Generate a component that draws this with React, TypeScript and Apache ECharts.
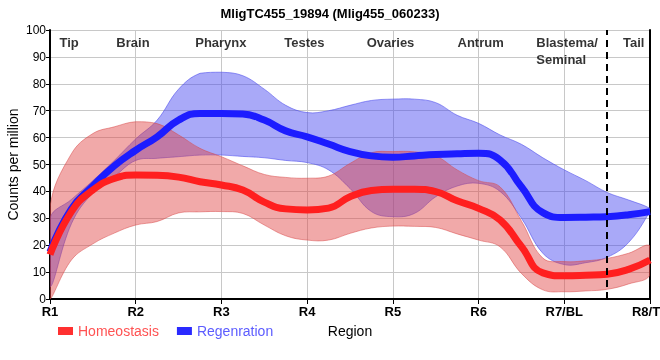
import React, { useEffect, useRef } from "react";
import * as echarts from "echarts";

const chartTitle = "MligTC455_19894 (Mlig455_060233)";
const xLabels = ["R1", "R2", "R3", "R4", "R5", "R6", "R7/BL", "R8/TL"];

// sample positions along the body axis (R1..R8)
const samplePos = [1, 1.25, 1.5, 1.75, 2, 2.25, 2.5, 2.75, 3, 3.25, 3.5, 3.75, 4, 4.25, 4.5, 4.75, 5, 5.25, 5.5, 5.75, 6, 6.25, 6.5, 6.75, 7, 7.25, 7.5, 7.75, 8];

const homeoMean = [16.5, 32.5, 40.5, 44.8, 46.1, 46.0, 45.3, 43.6, 42.4, 40.5, 36.0, 33.5, 33.1, 33.8, 38.0, 40.3, 40.8, 40.8, 39.9, 36.5, 33.7, 29.4, 19.5, 9.7, 8.6, 8.8, 9.2, 11.0, 14.5];
const homeoUpper = [34.3, 54.0, 61.5, 64.0, 65.9, 65.2, 61.0, 56.0, 52.9, 49.5, 46.3, 45.2, 44.9, 45.7, 50.4, 54.4, 54.8, 54.7, 53.2, 48.0, 44.0, 41.7, 29.0, 15.2, 13.9, 14.2, 15.1, 17.0, 19.7];
const homeoLower = [0, 14.5, 20.5, 24.5, 27.5, 28.8, 32.0, 32.4, 32.5, 31.8, 27.5, 23.5, 21.9, 21.9, 24.4, 26.4, 27.1, 27.0, 26.6, 24.2, 21.9, 19.4, 9.5, 3.4, 2.7, 3.0, 3.6, 5.6, 8.9];

const regenMean = [17.5, 33.5, 42.0, 49.5, 55.3, 60.3, 66.5, 69.0, 69.0, 68.8, 66.5, 62.5, 60.3, 57.6, 54.8, 53.2, 52.7, 53.2, 53.7, 54.0, 54.2, 51.7, 41.7, 32.1, 30.3, 30.4, 30.6, 31.3, 32.5];
const regenUpper = [30.0, 37.0, 44.0, 51.5, 59.5, 66.5, 78.0, 83.9, 84.3, 83.0, 78.0, 72.0, 69.3, 70.0, 72.0, 73.8, 74.3, 74.3, 73.0, 68.3, 65.3, 61.0, 57.5, 52.5, 48.0, 44.0, 39.6, 36.8, 33.7];
const regenLower = [4.5, 28.0, 39.5, 45.5, 51.5, 52.3, 52.9, 53.5, 53.5, 53.0, 52.5, 51.5, 50.7, 48.0, 41.1, 32.5, 30.6, 31.8, 38.0, 42.0, 43.0, 40.0, 30.0, 17.0, 12.8, 13.5, 15.5, 21.0, 32.5];

const regionNames = ["Tip", "Brain", "Pharynx", "Testes", "Ovaries", "Antrum", "Blastema/\nSeminal", "Tail"];
const regionPos = [1.117, 1.78, 2.7, 3.74, 4.7, 5.76, 6.68, 7.69];
const tailDivider = 7.5;

export default function App() {
  const ref = useRef<HTMLDivElement>(null);
  useEffect(() => {
    const chart = echarts.init(ref.current!, null, { renderer: "svg" });
    const pairs = (ys: number[]) => samplePos.map((x, i) => [x, ys[i]]);
    const band = (lo: number[], up: number[], fill: string, edge: string) => ({
      type: "custom",
      coordinateSystem: "cartesian2d",
      silent: true,
      clip: true,
      data: [[samplePos[0], lo[0]]],
      renderItem: (_params: any, api: any) => {
        const top = samplePos.map((x, i) => api.coord([x, up[i]]));
        const bot = samplePos.map((x, i) => api.coord([x, lo[i]])).reverse();
        const pts = top.concat(bot);
        let minX = Infinity, minY = Infinity, maxX = -Infinity, maxY = -Infinity;
        pts.forEach((p: number[]) => {
          minX = Math.min(minX, p[0]); maxX = Math.max(maxX, p[0]);
          minY = Math.min(minY, p[1]); maxY = Math.max(maxY, p[1]);
        });
        return {
          type: "polygon",
          shape: { points: pts, smooth: 0.4, smoothConstraint: [[minX, minY], [maxX, maxY]] },
          style: { fill, stroke: edge, lineWidth: 1 },
        };
      },
    });
    const font = "'Liberation Sans', Arial, sans-serif";
    chart.setOption({
      animation: false,
      textStyle: { fontFamily: font },
      title: {
        text: chartTitle, left: "center", top: 2,
        textStyle: { fontSize: 13, fontWeight: "bold", color: "#000", fontFamily: font },
      },
      grid: { left: 50, right: 10, top: 30, bottom: 61, containLabel: false, outerBoundsMode: "none" },
      legend: {
        left: 53, top: 319, itemWidth: 15, itemHeight: 8, itemGap: 18, icon: "rect",
        textStyle: { fontSize: 14, fontFamily: font },
        data: [
          { name: "Homeostasis", textStyle: { color: "#ff5252" } },
          { name: "Regenration", textStyle: { color: "#5c5cff" } },
        ],
      },
      xAxis: {
        type: "value", min: 1, max: 8, interval: 1,
        name: "Region", nameLocation: "middle", nameGap: 25, nameMoveOverlap: false,
        nameTextStyle: { fontSize: 14, color: "#000", fontFamily: font },
        axisLine: { show: true, onZero: false, lineStyle: { color: "#000", width: 2 } },
        axisTick: { show: true, length: 5, lineStyle: { color: "#000", width: 1 } },
        axisLabel: {
          formatter: (v: number) => xLabels[Math.round(v) - 1] ?? "",
          fontSize: 13, fontWeight: "bold", color: "#000", margin: 6, fontFamily: font,
          hideOverlap: false,
        },
        splitLine: { show: true, lineStyle: { color: "#c8c8c8", width: 1 } },
      },
      yAxis: [
        {
          type: "value", min: 0, max: 100, interval: 10,
          name: "Counts per million", nameLocation: "middle", nameGap: 30, nameMoveOverlap: false,
          nameTextStyle: { fontSize: 14, color: "#000", fontFamily: font },
          axisLine: { show: true, lineStyle: { color: "#000", width: 2 } },
          axisTick: { show: true, length: 4, lineStyle: { color: "#000" } },
          axisLabel: { fontSize: 12, color: "#000", margin: 4, fontFamily: font },
          splitLine: { show: true, lineStyle: { color: "#c8c8c8", width: 1 } },
        },
        {
          type: "value", min: 0, max: 100, interval: 10, position: "right",
          axisLine: { show: true, lineStyle: { color: "#000", width: 2 } },
          axisTick: { show: false }, axisLabel: { show: false }, splitLine: { show: false },
        },
      ],
      series: [
        band(regenLower, regenUpper, "rgba(64,64,240,0.45)", "rgba(70,70,235,0.55)"),
        {
          type: "line", name: "Regenration", data: pairs(regenMean), smooth: true, symbol: "none",
          lineStyle: { width: 7, color: "#1c1cff" }, itemStyle: { color: "#2a2aff" }, emphasis: { disabled: true },
        },
        band(homeoLower, homeoUpper, "rgba(224,64,64,0.45)", "rgba(215,70,70,0.5)"),
        {
          type: "line", name: "Homeostasis", data: pairs(homeoMean), smooth: true, symbol: "none",
          lineStyle: { width: 7, color: "#ff1f1f" }, itemStyle: { color: "#ff3030" }, emphasis: { disabled: true },
        },
        {
          type: "scatter", name: "regions", silent: true, symbolSize: 1,
          itemStyle: { color: "rgba(0,0,0,0)" },
          data: regionNames.map((n, i) => ({ name: n, value: [regionPos[i], 100] })),
          label: {
            show: true, position: [0, 4], align: "left", verticalAlign: "top",
            formatter: (p: any) => p.name, fontSize: 13, fontWeight: "bold", color: "#000",
            lineHeight: 17, fontFamily: font,
          },
          markLine: {
            silent: true, symbol: ["none", "none"], label: { show: false },
            lineStyle: { color: "#000", type: [7, 5], width: 2 },
            data: [{ xAxis: tailDivider }],
          },
          z: 10,
        },
      ],
    });
    return () => chart.dispose();
  }, []);
  return <div ref={ref} style={{ width: 660, height: 360, position: "fixed", left: 0, top: 0 }} />;
}
